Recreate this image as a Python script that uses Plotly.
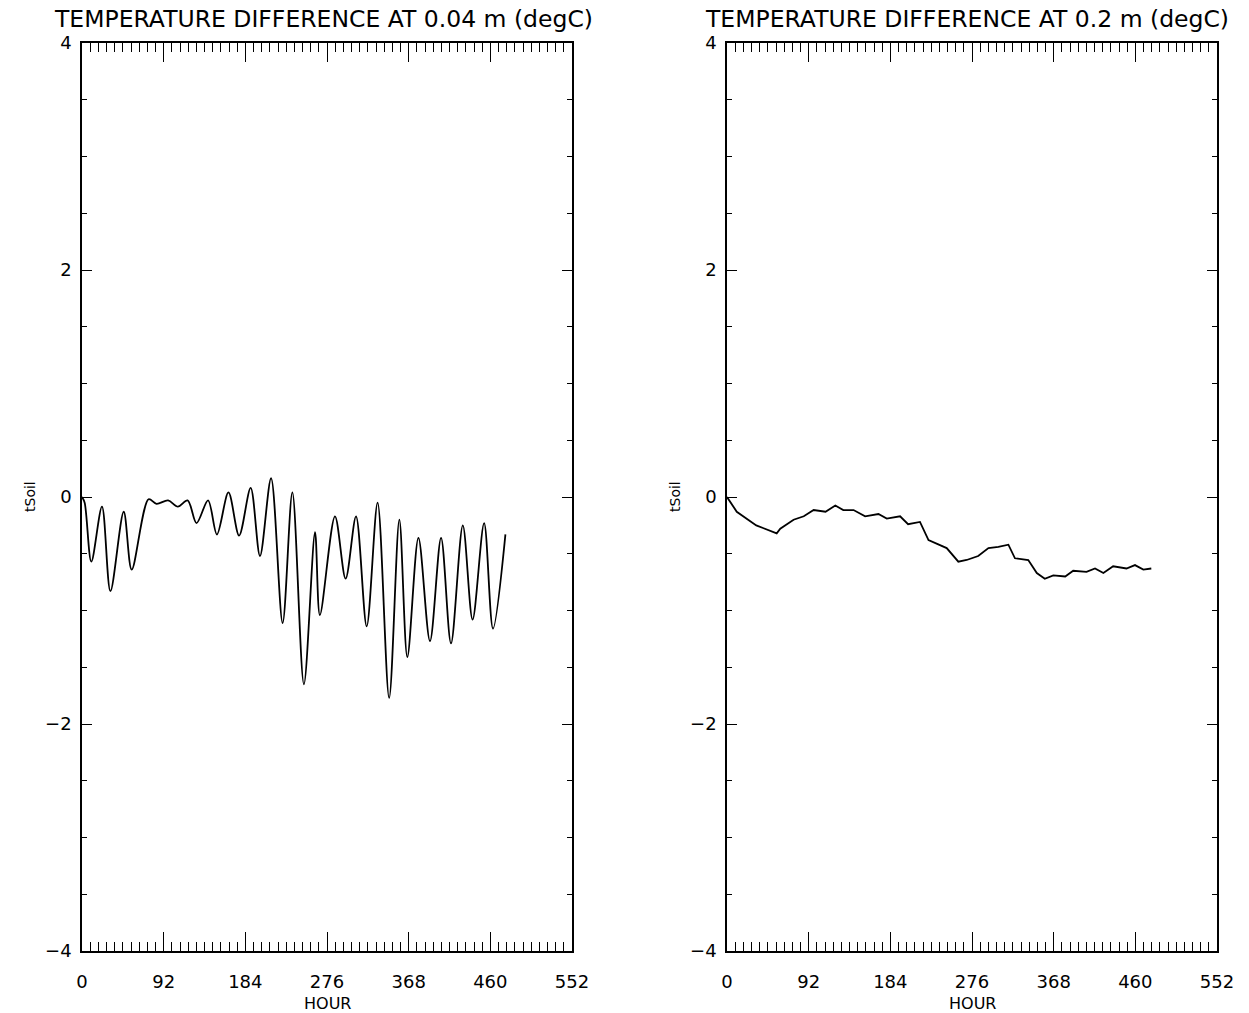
import plotly.graph_objects as go

# Left panel: temperature difference at 0.04 m (read at peaks/troughs)
hour_a = [0, 3, 10.5, 22.5, 32, 47, 56, 75, 84, 97, 108, 119, 129, 142, 152, 165, 177, 190,
          200.5, 213, 226, 237, 250, 262.5, 268, 285, 297, 308.7, 320.7, 333, 346, 357.5,
          366.5, 379, 392, 404.5, 415.7, 429, 440, 453, 463, 477]
tsoil_a = [0.0, -0.05, -0.57, -0.085, -0.83, -0.13, -0.64, -0.02, -0.06, -0.03, -0.085, -0.03,
           -0.23, -0.03, -0.33, 0.04, -0.34, 0.08, -0.52, 0.165, -1.11, 0.04, -1.65, -0.31,
           -1.04, -0.17, -0.72, -0.17, -1.14, -0.05, -1.77, -0.2, -1.41, -0.36, -1.27, -0.36,
           -1.29, -0.25, -1.08, -0.23, -1.16, -0.33]

# Right panel: temperature difference at 0.2 m
hour_b = [0, 11, 33, 56, 60, 75, 86.5, 97.6, 111, 122, 131, 142.6, 155.6, 170.6, 180, 195,
          204, 217.4, 227, 238, 247.5, 260.6, 270, 283, 294.5, 305.7, 317, 324.4, 339.4, 349,
          358, 367.6, 381, 390, 405, 414.6, 424, 435, 450, 459.6, 469, 478]
tsoil_b = [0.0, -0.13, -0.25, -0.32, -0.28, -0.2, -0.17, -0.115, -0.13, -0.075, -0.115, -0.115,
           -0.17, -0.15, -0.19, -0.17, -0.24, -0.22, -0.38, -0.42, -0.45, -0.57, -0.555, -0.52,
           -0.45, -0.44, -0.42, -0.54, -0.555, -0.67, -0.72, -0.69, -0.70, -0.65, -0.66, -0.63,
           -0.67, -0.61, -0.63, -0.60, -0.64, -0.63]

titles = ["TEMPERATURE DIFFERENCE AT 0.04 m (degC)", "TEMPERATURE DIFFERENCE AT 0.2 m (degC)"]
x_ticks = [0, 92, 184, 276, 368, 460, 552]
y_ticks = [-4, -2, 0, 2, 4]

W, H = 1249, 1013
FONT = "DejaVu Sans"

fig = go.Figure()
fig.add_trace(go.Scatter(x=hour_a, y=tsoil_a, mode="lines",
                         line=dict(color="black", width=1.8, shape="spline", smoothing=0.9),
                         xaxis="x", yaxis="y", showlegend=False))
fig.add_trace(go.Scatter(x=hour_b, y=tsoil_b, mode="lines",
                         line=dict(color="black", width=1.8),
                         xaxis="x2", yaxis="y2", showlegend=False))

left_px = [(82, 572), (727, 1217)]
title_cx = [323, 967]
top_px, bot_px = 43, 951
ydom = [(H - bot_px) / H, (H - top_px) / H]

def xax(dom, anchor):
    return dict(domain=dom, anchor=anchor, range=[0, 552], tickvals=x_ticks,
                ticktext=[str(v) for v in x_ticks], ticks="inside", ticklen=19, tickwidth=1.3,
                tickcolor="black", showline=True, linecolor="black", linewidth=1.6, mirror="ticks",
                showgrid=False, zeroline=False, ticklabelstandoff=14, automargin=False,
                tickfont=dict(family=FONT, size=18, color="black"),
                minor=dict(dtick=9.2, tick0=0, ticks="inside", ticklen=9, tickwidth=1.1,
                           tickcolor="black", showgrid=False))

def yax(anchor):
    return dict(domain=ydom, anchor=anchor, range=[-4, 4], tickvals=y_ticks,
                ticks="inside", ticklen=10, tickwidth=1.3, tickcolor="black",
                showline=True, linecolor="black", linewidth=1.6, mirror="ticks",
                showgrid=False, zeroline=False, ticklabelstandoff=5, automargin=False,
                tickfont=dict(family=FONT, size=18, color="black"),
                minor=dict(dtick=0.5, tick0=0, ticks="inside", ticklen=5, tickwidth=1.1,
                           tickcolor="black", showgrid=False))

fig.update_layout(
    width=W, height=H, margin=dict(l=0, r=0, t=0, b=0, autoexpand=False),
    paper_bgcolor="white", plot_bgcolor="white",
    xaxis=xax([left_px[0][0] / W, left_px[0][1] / W], "y"),
    yaxis=yax("x"),
    xaxis2=xax([left_px[1][0] / W, left_px[1][1] / W], "y2"),
    yaxis2=yax("x2"),
)

anns = []
for i, (l, r) in enumerate(left_px):
    cx = (l + r) / 2 / W
    anns.append(dict(text=titles[i], x=title_cx[i] / W, y=1 - 19 / H, xref="paper", yref="paper",
                     showarrow=False, xanchor="center", yanchor="middle",
                     font=dict(family=FONT, size=23.5, color="black")))
    anns.append(dict(text="HOUR", x=cx, y=1 - 1003 / H, xref="paper", yref="paper",
                     showarrow=False, xanchor="center", yanchor="middle",
                     font=dict(family=FONT, size=16, color="black")))
    anns.append(dict(text="tSoil", x=(l - 52) / W, y=1 - 497 / H, xref="paper", yref="paper",
                     showarrow=False, xanchor="center", yanchor="middle", textangle=-90,
                     font=dict(family=FONT, size=14, color="black")))
fig.update_layout(annotations=anns)

fig.write_html("out.html")
